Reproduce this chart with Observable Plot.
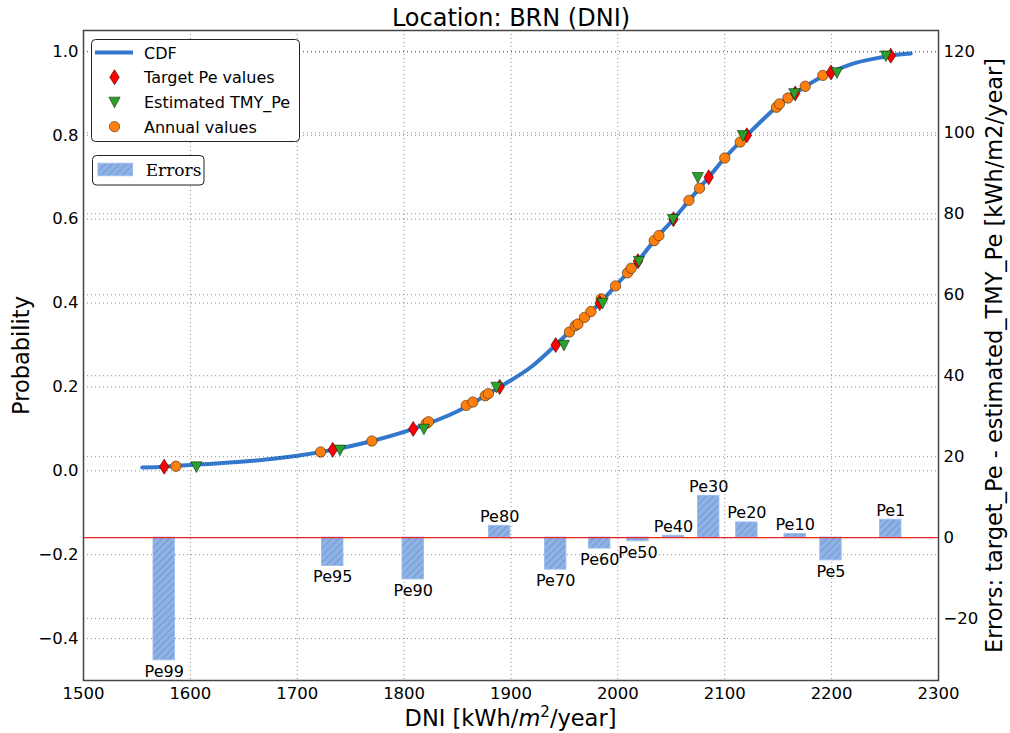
<!DOCTYPE html>
<html><head><meta charset="utf-8">
<script src="https://cdn.jsdelivr.net/npm/d3@7"></script>
<script src="https://cdn.jsdelivr.net/npm/@observablehq/plot@0.6"></script>
<style>
body{margin:0;background:#fff;}
#wrap{position:relative;width:1010px;height:733px;font-family:"DejaVu Sans",sans-serif;background:#fff;}
#wrap > svg{position:absolute;left:0;top:0;}
</style></head><body><div id="wrap"></div>
<script>
// ---------- data ----------
const peLabels = ["Pe99","Pe95","Pe90","Pe80","Pe70","Pe60","Pe50","Pe40","Pe30","Pe20","Pe10","Pe5","Pe1"];
const peProb = [0.01,0.05,0.10,0.20,0.30,0.40,0.50,0.60,0.70,0.80,0.90,0.95,0.99];
const targetPe = [1575.5,1733.2,1808.5,1889.4,1941.8,1983.0,2018.8,2052.0,2085.0,2120.7,2165.9,2199.4,2255.3];
const estimatedPe = [1605.7,1740.0,1818.5,1886.4,1949.5,1985.7,2019.7,2051.6,2074.8,2117.0,2165.1,2205.0,2250.8];
const errorsPe = [-30.3,-7.0,-10.3,2.9,-7.9,-2.7,-0.9,0.45,10.3,3.75,0.9,-5.6,4.4];

const annualDNI = [1586.5,1721.9,1769.8,1820.7,1822.8,1858.1,1864.3,1875.9,1878.9,1954.7,1960.1,1962.6,1968.8,1974.8,1984.4,1997.8,2009.0,2012.5,2034.0,2038.4,2066.5,2076.4,2100.0,2114.5,2148.4,2151.2,2159.1,2175.3,2191.8];
const annualProb = [0.011,0.045,0.071,0.113,0.117,0.156,0.164,0.179,0.184,0.331,0.346,0.350,0.366,0.380,0.410,0.441,0.472,0.483,0.549,0.561,0.645,0.674,0.746,0.784,0.867,0.875,0.889,0.917,0.943];

const cdfDNI = [1555,1575.5,1600,1650,1700,1733,1770,1808.5,1850,1889.4,1920,1941.8,1962,1983,2000,2018.8,2035,2052,2068,2085,2100,2120.7,2140,2159,2165.9,2180,2199.4,2220,2240,2255.3,2274];
const cdfProb = [0.008,0.010,0.014,0.022,0.036,0.050,0.071,0.100,0.142,0.200,0.250,0.300,0.350,0.400,0.447,0.500,0.552,0.600,0.649,0.700,0.746,0.800,0.848,0.889,0.900,0.924,0.950,0.971,0.983,0.990,0.995];

const xTicks = [1500,1600,1700,1800,1900,2000,2100,2200,2300];
const yTicksLeft = [-0.4,-0.2,0.0,0.2,0.4,0.6,0.8,1.0];
const yTicksRight = [-20,0,20,40,60,80,100,120];

const titleText = "Location: BRN (DNI)";
const yLabelLeft = "Probability";
const yLabelRight = "Errors: target_Pe - estimated_TMY_Pe [kWh/m2/year]";
const legendItems = ["CDF","Target Pe values","Estimated TMY_Pe","Annual values"];
const legendErrors = "Errors";

// ---------- tables ----------
const cdf = cdfDNI.map((x,i)=>({x, p:cdfProb[i]}));
const annual = annualDNI.map((x,i)=>({x, p:annualProb[i]}));
const pe = peLabels.map((label,i)=>({label, p:peProb[i], t:targetPe[i], e:estimatedPe[i], err:errorsPe[i]}));

// ---------- style ----------
const W=1010,H=733,mL=83,mR=72,mT=30,mB=53;
const cdfColor="#3478cd", redC="#ff0000", greenC="#2ca02c", orangeC="#ff7f0e";
const gridStyle = {stroke:"#000", strokeOpacity:0.45, strokeDasharray:"1,3", strokeWidth:1};
const thinDiamond = {draw(ctx,size){const r=Math.sqrt(size/Math.PI);ctx.moveTo(0,-1.5*r);ctx.lineTo(0.95*r,0);ctx.lineTo(0,1.5*r);ctx.lineTo(-0.95*r,0);ctx.closePath();}};
const triDown = {draw(ctx,size){const r=Math.sqrt(size/Math.PI);ctx.moveTo(-r,-0.85*r);ctx.lineTo(r,-0.85*r);ctx.lineTo(0,1.05*r);ctx.closePath();}};
const halfBar = 10;
const labelSize = 22.5;

const wrap = document.getElementById("wrap");

const plotA = Plot.plot({
  width:W,height:H,marginLeft:mL,marginRight:mR,marginTop:mT,marginBottom:mB,
  style:{fontFamily:"DejaVu Sans",fontSize:"16.5px",background:"none",overflow:"visible",color:"#000"},
  x:{domain:[1500,2300]},
  y:{domain:[-0.5,1.05]},
  marks:[
    Plot.gridX(xTicks, gridStyle),
    Plot.gridY(yTicksLeft, gridStyle),
    Plot.line(cdf,{x:"x",y:"p",stroke:cdfColor,strokeWidth:4,curve:"monotone-x"}),
    Plot.dot(annual,{x:"x",y:"p",r:5.2,fill:orangeC,stroke:"#3a2a10",strokeWidth:0.6}),
    Plot.dot(pe,{x:"t",y:"p",symbol:thinDiamond,r:5,fill:redC,stroke:"#300",strokeWidth:0.6}),
    Plot.dot(pe,{x:"e",y:"p",symbol:triDown,r:5.6,fill:greenC,stroke:"#0a300a",strokeWidth:0.6}),
    Plot.axisX(xTicks,{tickSize:0,tickPadding:6.5,label:null,tickFormat:d3.format("d")}),
    Plot.axisY(yTicksLeft,{tickSize:0,tickPadding:5,label:null,tickFormat:d3.format(".1f")}),
    Plot.text([titleText],{frameAnchor:"top",lineAnchor:"bottom",dy:-5,fontSize:24}),
    Plot.text([yLabelLeft],{frameAnchor:"left",textAnchor:"middle",rotate:-90,lineAnchor:"bottom",dx:-55,fontSize:labelSize}),
    Plot.frame({stroke:"#444",strokeWidth:1.5})
  ]
});

const plotB = Plot.plot({
  width:W,height:H,marginLeft:mL,marginRight:mR,marginTop:mT,marginBottom:mB,
  style:{fontFamily:"DejaVu Sans",fontSize:"16.5px",background:"none",overflow:"visible",color:"#000"},
  x:{domain:[1500,2300],axis:null},
  y:{domain:[-35.3,125.3]},
  marks:[
    Plot.gridY(yTicksRight, gridStyle),
    Plot.rect(pe,{x1:d=>d.t-halfBar,x2:d=>d.t+halfBar,y1:()=>0,y2:"err",fill:"url(#hatchB)",stroke:"#9bbcec",strokeWidth:1}),
    Plot.ruleY([0],{stroke:"#ee2222",strokeWidth:1.3}),
    Plot.text(pe.filter(d=>d.err<0),{x:"t",y:"err",text:"label",lineAnchor:"top",dy:5,fontSize:16}),
    Plot.text(pe.filter(d=>d.err>=0),{x:"t",y:"err",text:"label",lineAnchor:"bottom",dy:-4,fontSize:16}),
    Plot.axisY(yTicksRight,{anchor:"right",tickSize:0,tickPadding:5,label:null,tickFormat:d3.format("d")}),
    Plot.text([yLabelRight],{frameAnchor:"right",textAnchor:"middle",rotate:-90,lineAnchor:"bottom",dx:63.5,fontSize:labelSize})
  ]
});

function addHatch(svg,id){
  const defs = d3.select(svg).insert("defs",":first-child");
  const pat = defs.append("pattern").attr("id",id).attr("patternUnits","userSpaceOnUse")
    .attr("width",5).attr("height",5).attr("patternTransform","rotate(45)");
  pat.append("rect").attr("width",5).attr("height",5).attr("fill","#8fb2e4");
  pat.append("line").attr("x1",0.5).attr("y1",0).attr("x2",0.5).attr("y2",5).attr("stroke","#7098d6").attr("stroke-width",1);
}
addHatch(plotB,"hatchB");

// x label with math superscript
const xl = d3.select(plotA).append("text").attr("x",(mL+W-mR)/2).attr("y",726)
  .attr("text-anchor","middle").attr("font-size",labelSize).attr("fill","#000");
xl.append("tspan").text("DNI [kWh/");
xl.append("tspan").attr("font-style","italic").text("m");
xl.append("tspan").attr("font-size",15).attr("dy",-9).text("2");
xl.append("tspan").attr("dy",9).text("/year]");

wrap.appendChild(plotA);
wrap.appendChild(plotB);

// legends
const lg = d3.select(wrap).append("svg").attr("width",W).attr("height",H)
  .style("position","absolute").style("left","0").style("top","0")
  .attr("font-family","DejaVu Sans");
addHatch(lg.node(),"hatchL");
lg.append("rect").attr("x",91.5).attr("y",39.5).attr("width",208).attr("height",102).attr("rx",4)
  .attr("fill","#fff").attr("stroke","#222").attr("stroke-width",1);
const base = [58.5,83.2,107.9,132.6];
lg.append("line").attr("x1",95).attr("x2",133).attr("y1",base[0]-6).attr("y2",base[0]-6)
  .attr("stroke",cdfColor).attr("stroke-width",4);
const sym = (s,r)=>d3.symbol(s,r*r*Math.PI)();
lg.append("path").attr("d",sym(thinDiamond,5)).attr("transform",`translate(114.5,${base[1]-6})`)
  .attr("fill",redC).attr("stroke","#300").attr("stroke-width",0.6);
lg.append("path").attr("d",sym(triDown,5.6)).attr("transform",`translate(114.5,${base[2]-6})`)
  .attr("fill",greenC).attr("stroke","#0a300a").attr("stroke-width",0.6);
lg.append("circle").attr("cx",114.5).attr("cy",base[3]-6).attr("r",5.2)
  .attr("fill",orangeC).attr("stroke","#3a2a10").attr("stroke-width",0.6);
legendItems.forEach((t,i)=>{
  lg.append("text").attr("x",144).attr("y",base[i]).attr("font-size",16).attr("fill","#000").text(t);
});
lg.append("rect").attr("x",92.5).attr("y",155.5).attr("width",111.5).attr("height",29.5).attr("rx",4)
  .attr("fill","#fff").attr("stroke","#222").attr("stroke-width",1);
lg.append("rect").attr("x",98).attr("y",163.3).attr("width",34.5).attr("height",12.4)
  .attr("fill","url(#hatchL)").attr("stroke","#9bbcec");
lg.append("text").attr("x",145.7).attr("y",175.5).attr("font-family","DejaVu Serif").attr("font-size",17)
  .attr("fill","#000").text(legendErrors);
</script></body></html>
